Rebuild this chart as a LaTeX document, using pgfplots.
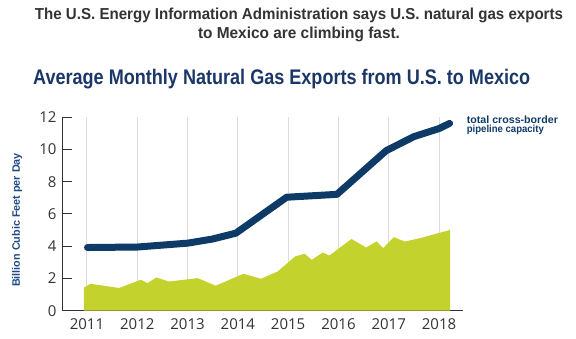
\documentclass[border=0pt]{standalone}
\usepackage{fontspec}
\setmainfont{Open Sans}
\newfontfamily\lib{Liberation Sans}
\usepackage{pgfplots}
\pgfplotsset{compat=1.18}
\definecolor{navy}{HTML}{0E3A68}
\definecolor{titlenavy}{HTML}{1B3768}
\definecolor{labblue}{HTML}{1F4A86}
\definecolor{gasgreen}{HTML}{C4D22E}
\definecolor{gridgray}{HTML}{DCDCDC}
\definecolor{axgray}{HTML}{333333}
\definecolor{subgray}{HTML}{333333}
\begin{document}
\begin{tikzpicture}[x=1pt,y=1pt]
\path[use as bounding box] (0,0) rectangle (576,339);
% subtitle
\node[anchor=base,inner sep=0,text=subgray] at (299,319) {\resizebox{528pt}{11.5pt}{\lib\bfseries The U.S. Energy Information Administration says U.S. natural gas exports}};
\node[anchor=base,inner sep=0,text=subgray] at (299,300.5) {\resizebox{202pt}{11.5pt}{\lib\bfseries to Mexico are climbing fast.}};
% title
\node[anchor=base west,inner sep=0,text=titlenavy] at (33,254) {\resizebox{497pt}{15.3pt}{\lib\bfseries Average Monthly Natural Gas Exports from U.S. to Mexico}};
% y label
\node[inner sep=0,text=labblue,rotate=90] at (17,119) {\resizebox{134pt}{!}{\lib\bfseries Billion Cubic Feet per Day}};
% annotation
\node[anchor=base west,inner sep=0,text=navy] at (466.7,215.5) {\resizebox{91pt}{7.6pt}{\lib\bfseries total cross-border}};
\node[anchor=base west,inner sep=0,text=navy] at (466.7,206) {\resizebox{77pt}{7.4pt}{\lib\bfseries pipeline capacity}};
\begin{axis}[
  at={(62pt,28.3pt)}, anchor=south west,
  scale only axis, width=401pt, height=193.4pt,
  xmin=2010.503, xmax=2018.477, ymin=0, ymax=12,
  axis x line=bottom, axis y line=left,
  axis line style={-, color=axgray, line width=1pt},
  xtick={2011,2012,2013,2014,2015,2016,2017,2018},
  ytick={0,2,4,6,8,10,12},
  xticklabels={2011,2012,2013,2014,2015,2016,2017,2018},
  tick align=inside,
  major tick length=10pt,
  xtick style={/pgfplots/major tick length=5pt, color=axgray, line width=1pt},
  ytick style={color=axgray, line width=1pt},
  xmajorgrids,
  grid style={color=gridgray, line width=1pt},
  /pgf/number format/assume math mode=true,
  ticklabel style={font=\fontsize{15}{15}\selectfont, text=subgray},
  yticklabel style={xshift=-2pt},
  xticklabel style={yshift=-4.3pt},
  clip=false,
]
\addplot[fill=gasgreen, draw=none] coordinates {
(2010.94,0) (2010.94,1.43) (2011.07,1.67) (2011.64,1.41) (2012.07,1.92)
(2012.20,1.71) (2012.38,2.06) (2012.63,1.81) (2013.20,2.02) (2013.56,1.55)
(2014.11,2.29) (2014.46,1.98) (2014.79,2.43) (2015.14,3.37) (2015.33,3.53)
(2015.47,3.16) (2015.69,3.61) (2015.82,3.42) (2016.26,4.45) (2016.55,3.92)
(2016.76,4.30) (2016.89,3.88) (2017.10,4.56) (2017.32,4.29) (2017.62,4.50)
(2018.22,5.01) (2018.22,0)
} -- cycle;
\addplot[color=navy, line width=7pt, line cap=round, line join=round] coordinates {
(2011.01,3.92) (2012.0,3.95) (2013.0,4.19) (2013.5,4.45) (2013.96,4.81)
(2014.97,7.04) (2015.97,7.22) (2016.95,9.93) (2017.5,10.8) (2018.0,11.3) (2018.21,11.62)
};
\end{axis}
\end{tikzpicture}
\end{document}
